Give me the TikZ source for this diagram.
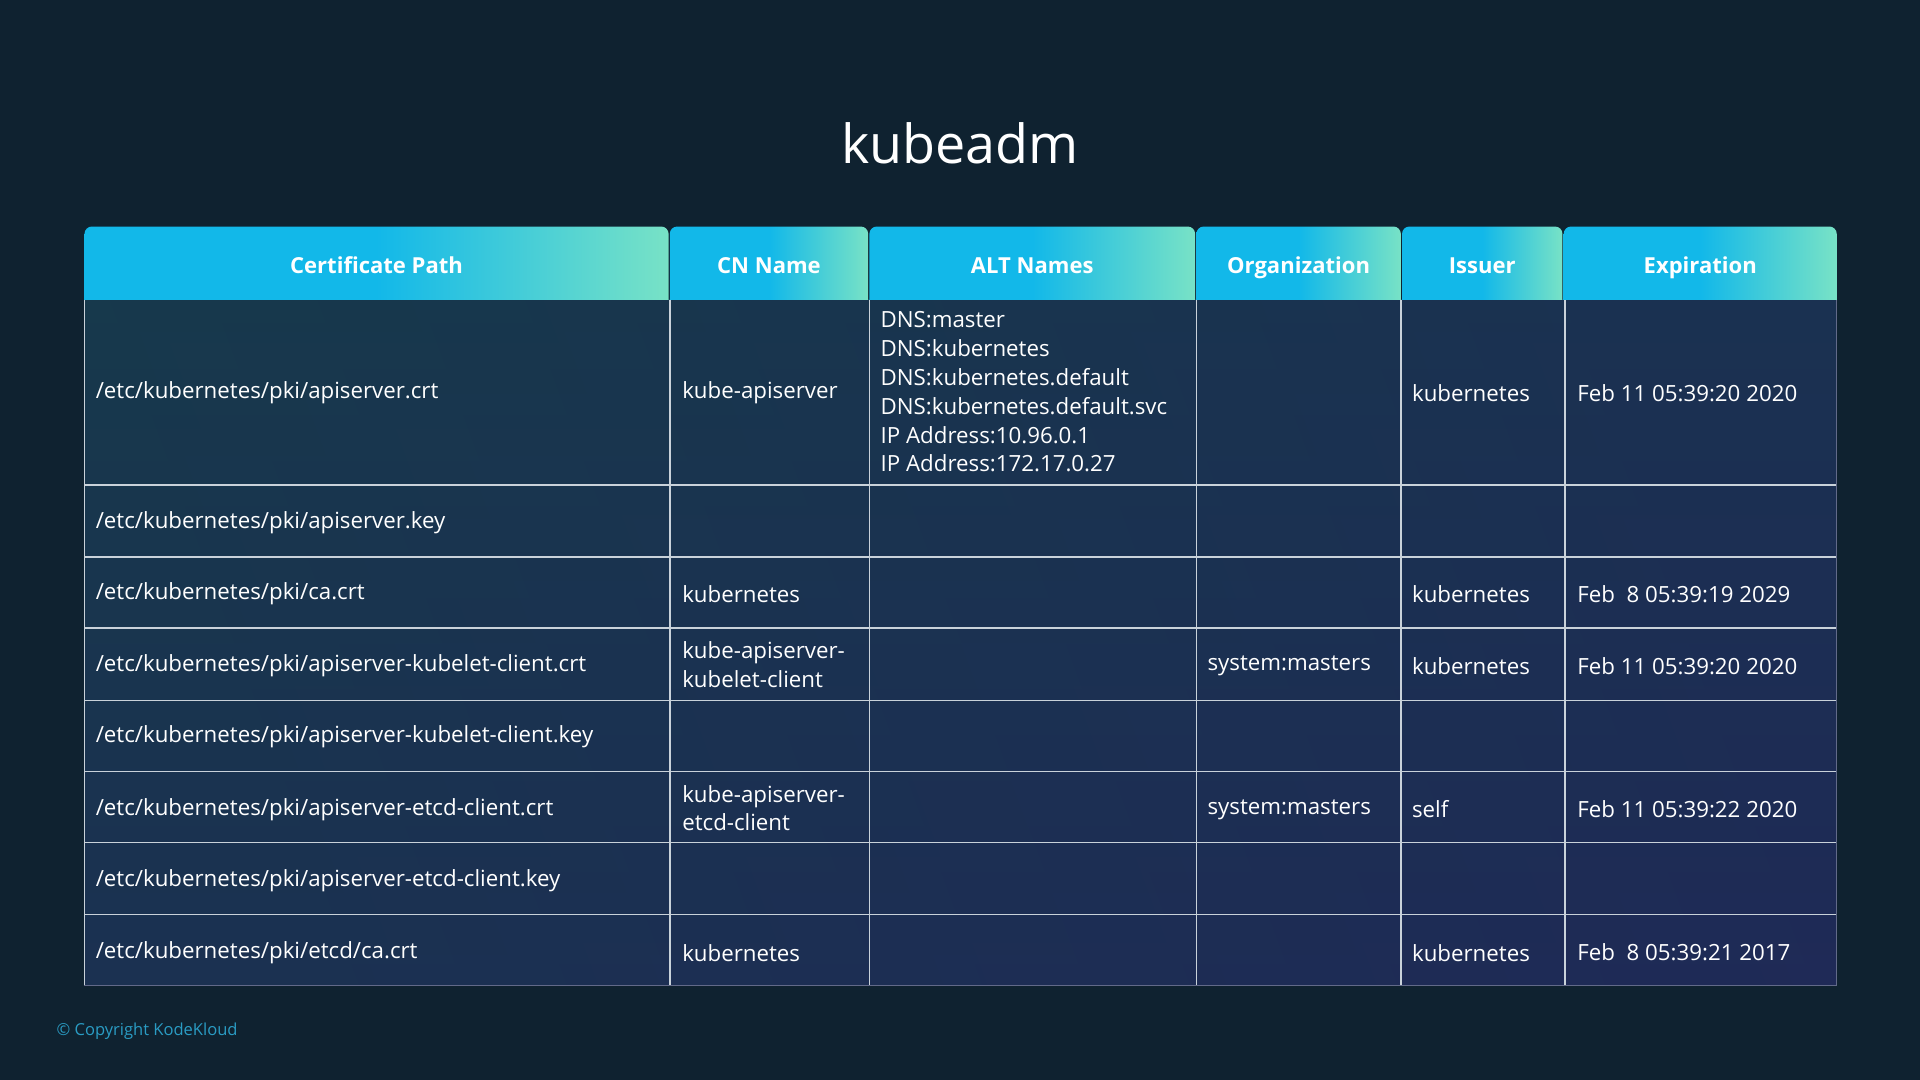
\documentclass[tikz,border=0pt]{standalone}
\usepackage{fontspec}
\setmainfont{Open Sans}
\usetikzlibrary{calc}
\definecolor{bg}{HTML}{0F2230}
\definecolor{hcyan}{HTML}{12B8E9}
\definecolor{hmint}{HTML}{78E2C6}
\definecolor{bodyA}{HTML}{17394C}
\definecolor{bodyB}{HTML}{1F2A57}
\definecolor{gridc}{HTML}{C9D2DA}
\definecolor{copyc}{HTML}{2A9CC4}
\begin{document}
\begin{tikzpicture}[x=1pt,y=-1pt,
  htext/.style={font=\fontsize{18}{20}\selectfont\bfseries,text=white,anchor=base,inner sep=0pt},
  cell/.style={anchor=west,font=\fontsize{18.2}{23.6}\selectfont,text=white,align=left,inner sep=0pt},
  grid/.style={draw=gridc,line width=1.3pt}]
\fill[bg] (0,0) rectangle (1568,882);
\useasboundingbox (0,0) rectangle (1568,882);
\node[text=white,font=\fontsize{44}{50}\selectfont] (title) at (784,117) {kubeadm};
% body
\shade[left color=bodyA,right color=bodyB,shading angle=110] (69,245) rectangle (1500,805);
\shade[top color=bodyA,bottom color=bodyB,opacity=0.5] (69,245) rectangle (1500,805);
% headers
\foreach \a/\b/\t/\n in {69/546/Certificate Path/h1,547/709/CN Name/h2,710/976/ALT Names/h3,977/1144/Organization/h4,1145/1276/Issuer/h5,1277/1500/Expiration/h6}{
  \shade[left color=hcyan,right color=hmint,middle color=hcyan] (\a,245) [rounded corners=6pt] -- (\a,185) -- (\b,185) [sharp corners] -- (\b,245) -- cycle;
  \node[htext] (\n) at ({(\a+\b)/2},223) {\t};
}
% grid
\foreach \y in {396,455,513,572,630,688,747}{\draw[grid] (69,\y) -- (1500,\y);}
\foreach \x in {547,710,977,1144,1278}{\draw[grid] (\x,245) -- (\x,805);}
\draw[draw=gridc,line width=0.8pt] (69,245) -- (69,805);
\draw[draw=bodyB!70!white,line width=0.8pt] (69,805) -- (1500,805) -- (1500,245);
% row 1
\node[cell] (p1) at (78,321) {/etc/kubernetes/pki/apiserver.crt};
\node[cell] (c1) at (557,321) {kube-apiserver};
\node[cell] (a1) at (719,320) {DNS:master\\DNS:kubernetes\\DNS:kubernetes.default\\DNS:kubernetes.default.svc\\IP Address:10.96.0.1\\IP Address:172.17.0.27};
\node[cell] (i1) at (1153,321) {kubernetes};
\node[cell] (e1) at (1288,321) {Feb 11 05:39:20 2020};
% row 2
\node[cell] (p2) at (78,427) {/etc/kubernetes/pki/apiserver.key};
% row 3
\node[cell] (p3) at (78,485) {/etc/kubernetes/pki/ca.crt};
\node[cell] (c3) at (557,485) {kubernetes};
\node[cell] (i3) at (1153,485) {kubernetes};
\node[cell] (e3) at (1288,485) {Feb\ \ 8 05:39:19 2029};
% row 4
\node[cell] (p4) at (78,544) {/etc/kubernetes/pki/apiserver-kubelet-client.crt};
\node[cell] (c4) at (557,543) {kube-apiserver-\\kubelet-client};
\node[cell] (o4) at (986,544) {system:masters};
\node[cell] (i4) at (1153,544) {kubernetes};
\node[cell] (e4) at (1288,544) {Feb 11 05:39:20 2020};
% row 5
\node[cell] (p5) at (78,602) {/etc/kubernetes/pki/apiserver-kubelet-client.key};
% row 6
\node[cell] (p6) at (78,661) {/etc/kubernetes/pki/apiserver-etcd-client.crt};
\node[cell] (c6) at (557,660) {kube-apiserver-\\etcd-client};
\node[cell] (o6) at (986,661) {system:masters};
\node[cell] (i6) at (1153,661) {self};
\node[cell] (e6) at (1288,661) {Feb 11 05:39:22 2020};
% row 7
\node[cell] (p7) at (78,719) {/etc/kubernetes/pki/apiserver-etcd-client.key};
% row 8
\node[cell] (p8) at (78,778) {/etc/kubernetes/pki/etcd/ca.crt};
\node[cell] (c8) at (557,778) {kubernetes};
\node[cell] (i8) at (1153,778) {kubernetes};
\node[cell] (e8) at (1288,778) {Feb\ \ 8 05:39:21 2017};
\node[anchor=west,inner sep=0pt,text=copyc,font=\fontsize{13.5}{15}\selectfont] (copy) at (46,842) {© Copyright KodeKloud};
\end{tikzpicture}
\end{document}
